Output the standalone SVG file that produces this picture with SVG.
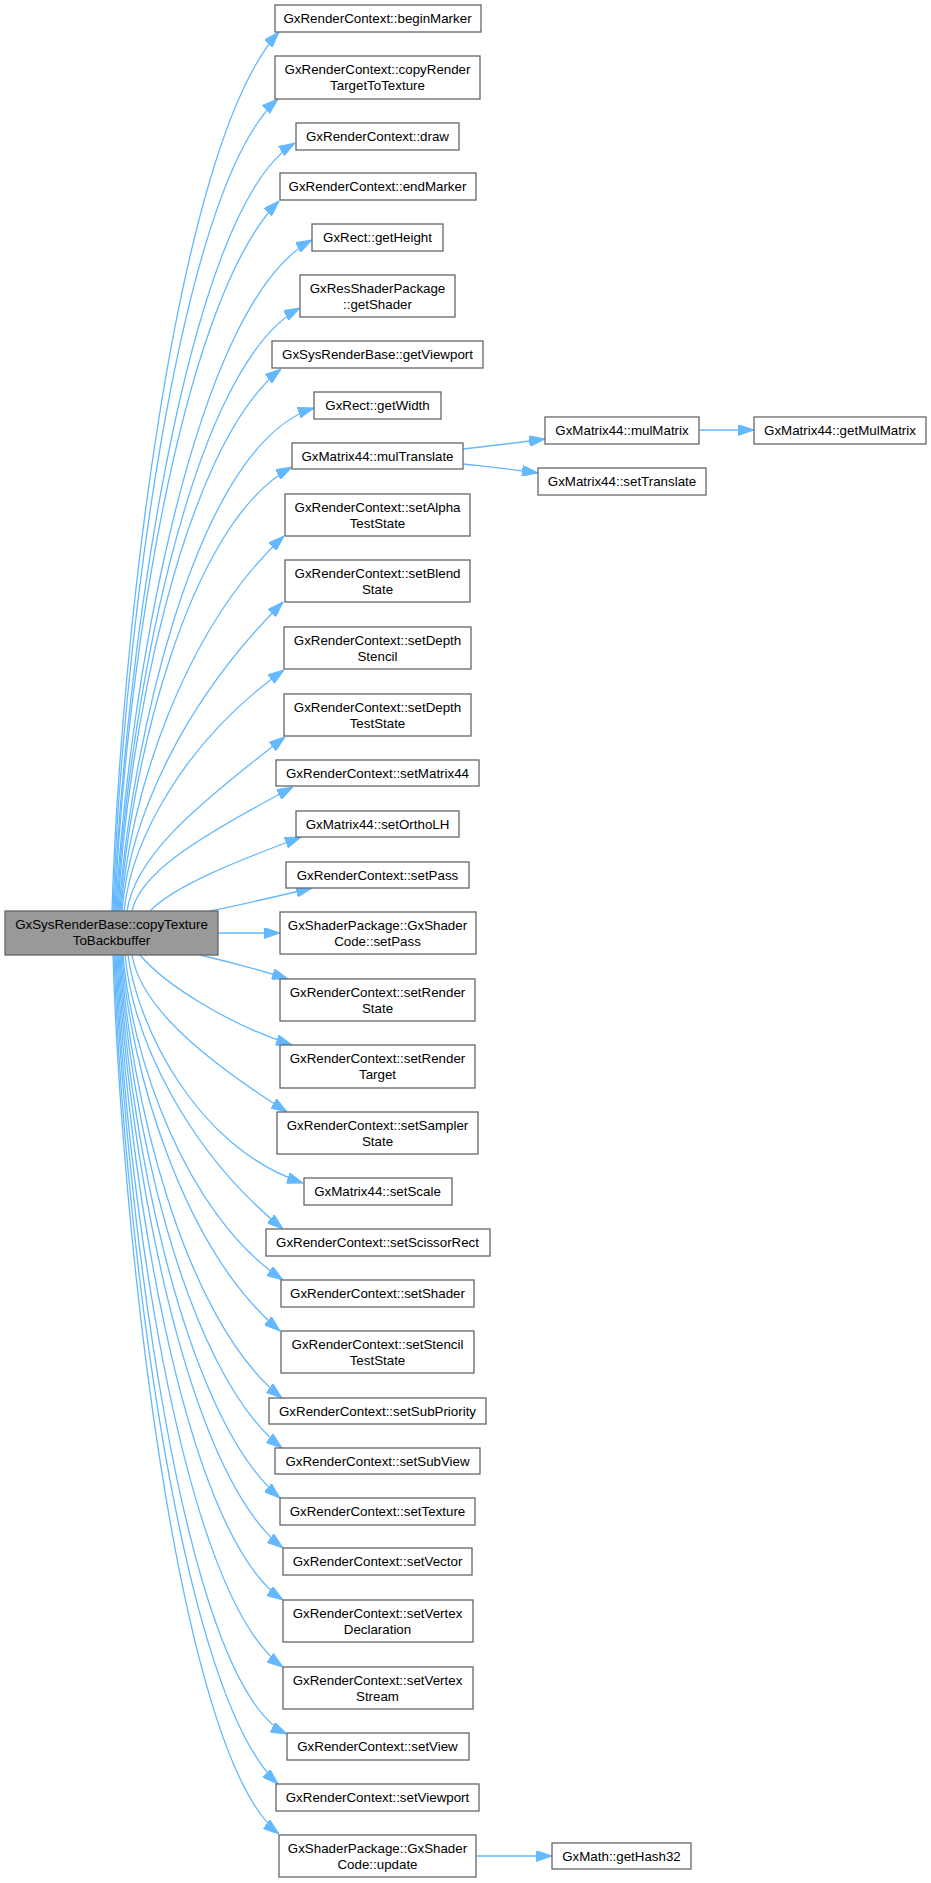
<svg xmlns="http://www.w3.org/2000/svg" width="931" height="1883" viewBox="0 0 931 1883">
<style>
.n rect{fill:#ffffff;stroke:#666666;stroke-width:1.3}
.src rect{fill:#999999;stroke:#666666;stroke-width:1.3}
text{font-family:"Liberation Sans",Arial,sans-serif;font-size:13.33px;fill:#000000;text-anchor:middle}
.e path{fill:none;stroke:#63b8ff;stroke-width:1.3;marker-end:url(#ah)}
</style>
<defs>
<marker id="ah" viewBox="0 0 16 11" markerWidth="16" markerHeight="11" refX="16" refY="5.5" orient="auto" markerUnits="userSpaceOnUse">
<path d="M0,0 L16,5.5 L0,11 z" fill="#63b8ff" stroke="#63b8ff" stroke-width="1"/>
</marker>
</defs>
<rect width="931" height="1883" fill="#ffffff"/>
<g id="edges" class="e">
<path d="M112,911 C120,647 175,144 279,32"/>
<path d="M113,911 C121,667 176,188 278,99"/>
<path d="M114,911 C123,681 183,210 295,143"/>
<path d="M115,911 C123,698 177,303 279,201"/>
<path d="M116,911 C126,710 190,305 312,240"/>
<path d="M117,911 C126,730 187,368 300,308"/>
<path d="M118,911 C126,748 180,449 281,369"/>
<path d="M119,911 C129,760 193,445 314,408"/>
<path d="M120,911 C129,778 185,524 292,467"/>
<path d="M121,911 C129,798 183,629 284,536"/>
<path d="M122,911 C130,818 183,702 283,602"/>
<path d="M124,911 C132,839 185,740 284,670"/>
<path d="M127,911 C135,859 187,812 285,737"/>
<path d="M132,911 C140,874 193,840 293,787"/>
<path d="M150,911 C175,885 240,860 301,837"/>
<path d="M210,911 C240,905 270,898 312,888"/>
<path d="M218,933 L280,933"/>
<path d="M200,955 C230,962 260,970 288,979"/>
<path d="M140,955 C165,985 230,1025 292,1045"/>
<path d="M132,955 C140,1002 191,1051 287,1112"/>
<path d="M128,955 C137,1023 194,1147 303,1183"/>
<path d="M125,955 C133,1037 185,1149 283,1229"/>
<path d="M123,955 C131,1053 184,1214 283,1280"/>
<path d="M122,955 C130,1068 182,1248 280,1331"/>
<path d="M121,955 C129,1088 182,1319 282,1398"/>
<path d="M120,955 C128,1103 182,1369 282,1448"/>
<path d="M119,955 C127,1118 180,1413 280,1498"/>
<path d="M118,955 C126,1133 181,1469 283,1548"/>
<path d="M117,955 C125,1149 180,1531 283,1600"/>
<path d="M116,955 C124,1169 179,1593 283,1667"/>
<path d="M115,955 C124,1189 180,1684 287,1734"/>
<path d="M114,955 C122,1204 176,1690 278,1784"/>
<path d="M113,955 C121,1219 176,1753 279,1834"/>
<path d="M463,449 C490,446 515,443 545,439"/>
<path d="M463,464 C490,467 510,469 538,473"/>
<path d="M699,430 L754,430"/>
<path d="M476,1856 L552,1856"/>
</g>
<g id="node_src" class="src"><rect x="5" y="911" width="213" height="44"/><text x="111.5" y="929">GxSysRenderBase::copyTexture</text><text x="111.5" y="945">ToBackbuffer</text></g>
<g id="node_beginMarker" class="n"><rect x="275" y="5" width="206" height="27"/><text x="377.5" y="23">GxRenderContext::beginMarker</text></g>
<g id="node_copyRenderTargetToTexture" class="n"><rect x="275" y="56" width="205" height="43"/><text x="377.5" y="74">GxRenderContext::copyRender</text><text x="377.5" y="90">TargetToTexture</text></g>
<g id="node_draw" class="n"><rect x="296" y="123" width="163" height="27"/><text x="377.5" y="141">GxRenderContext::draw</text></g>
<g id="node_endMarker" class="n"><rect x="280" y="173" width="196" height="27"/><text x="377.5" y="191">GxRenderContext::endMarker</text></g>
<g id="node_getHeight" class="n"><rect x="312" y="224" width="131" height="27"/><text x="377.5" y="242">GxRect::getHeight</text></g>
<g id="node_getShader" class="n"><rect x="300" y="275" width="155" height="42"/><text x="377.5" y="293">GxResShaderPackage</text><text x="377.5" y="309">::getShader</text></g>
<g id="node_getViewport" class="n"><rect x="272" y="341" width="211" height="27"/><text x="377.5" y="359">GxSysRenderBase::getViewport</text></g>
<g id="node_getWidth" class="n"><rect x="314" y="392" width="127" height="27"/><text x="377.5" y="410">GxRect::getWidth</text></g>
<g id="node_mulTranslate" class="n"><rect x="292" y="443" width="171" height="26"/><text x="377.5" y="461">GxMatrix44::mulTranslate</text></g>
<g id="node_setAlphaTestState" class="n"><rect x="285" y="494" width="185" height="42"/><text x="377.5" y="512">GxRenderContext::setAlpha</text><text x="377.5" y="528">TestState</text></g>
<g id="node_setBlendState" class="n"><rect x="285" y="560" width="185" height="42"/><text x="377.5" y="578">GxRenderContext::setBlend</text><text x="377.5" y="594">State</text></g>
<g id="node_setDepthStencil" class="n"><rect x="284" y="627" width="187" height="42"/><text x="377.5" y="645">GxRenderContext::setDepth</text><text x="377.5" y="661">Stencil</text></g>
<g id="node_setDepthTestState" class="n"><rect x="284" y="694" width="187" height="42"/><text x="377.5" y="712">GxRenderContext::setDepth</text><text x="377.5" y="728">TestState</text></g>
<g id="node_setMatrix44" class="n"><rect x="276" y="760" width="203" height="26"/><text x="377.5" y="778">GxRenderContext::setMatrix44</text></g>
<g id="node_setOrthoLH" class="n"><rect x="296" y="811" width="163" height="26"/><text x="377.5" y="829">GxMatrix44::setOrthoLH</text></g>
<g id="node_setPass" class="n"><rect x="286" y="862" width="183" height="26"/><text x="377.5" y="880">GxRenderContext::setPass</text></g>
<g id="node_codeSetPass" class="n"><rect x="280" y="912" width="196" height="42"/><text x="377.5" y="930">GxShaderPackage::GxShader</text><text x="377.5" y="946">Code::setPass</text></g>
<g id="node_setRenderState" class="n"><rect x="280" y="979" width="195" height="42"/><text x="377.5" y="997">GxRenderContext::setRender</text><text x="377.5" y="1013">State</text></g>
<g id="node_setRenderTarget" class="n"><rect x="280" y="1045" width="195" height="43"/><text x="377.5" y="1063">GxRenderContext::setRender</text><text x="377.5" y="1079">Target</text></g>
<g id="node_setSamplerState" class="n"><rect x="277" y="1112" width="201" height="42"/><text x="377.5" y="1130">GxRenderContext::setSampler</text><text x="377.5" y="1146">State</text></g>
<g id="node_setScale" class="n"><rect x="304" y="1178" width="148" height="27"/><text x="377.5" y="1196">GxMatrix44::setScale</text></g>
<g id="node_setScissorRect" class="n"><rect x="266" y="1229" width="224" height="27"/><text x="377.5" y="1247">GxRenderContext::setScissorRect</text></g>
<g id="node_setShader" class="n"><rect x="281" y="1280" width="193" height="27"/><text x="377.5" y="1298">GxRenderContext::setShader</text></g>
<g id="node_setStencilTestState" class="n"><rect x="281" y="1331" width="193" height="42"/><text x="377.5" y="1349">GxRenderContext::setStencil</text><text x="377.5" y="1365">TestState</text></g>
<g id="node_setSubPriority" class="n"><rect x="269" y="1398" width="217" height="26"/><text x="377.5" y="1416">GxRenderContext::setSubPriority</text></g>
<g id="node_setSubView" class="n"><rect x="275" y="1448" width="205" height="26"/><text x="377.5" y="1466">GxRenderContext::setSubView</text></g>
<g id="node_setTexture" class="n"><rect x="280" y="1498" width="195" height="27"/><text x="377.5" y="1516">GxRenderContext::setTexture</text></g>
<g id="node_setVector" class="n"><rect x="283" y="1548" width="189" height="27"/><text x="377.5" y="1566">GxRenderContext::setVector</text></g>
<g id="node_setVertexDeclaration" class="n"><rect x="283" y="1600" width="190" height="42"/><text x="377.5" y="1618">GxRenderContext::setVertex</text><text x="377.5" y="1634">Declaration</text></g>
<g id="node_setVertexStream" class="n"><rect x="283" y="1667" width="190" height="42"/><text x="377.5" y="1685">GxRenderContext::setVertex</text><text x="377.5" y="1701">Stream</text></g>
<g id="node_setView" class="n"><rect x="287" y="1733" width="182" height="27"/><text x="377.5" y="1751">GxRenderContext::setView</text></g>
<g id="node_setViewport" class="n"><rect x="276" y="1784" width="203" height="27"/><text x="377.5" y="1802">GxRenderContext::setViewport</text></g>
<g id="node_codeUpdate" class="n"><rect x="279" y="1835" width="197" height="42"/><text x="377.5" y="1853">GxShaderPackage::GxShader</text><text x="377.5" y="1869">Code::update</text></g>
<g id="node_mulMatrix" class="n"><rect x="545" y="417" width="154" height="27"/><text x="622" y="435">GxMatrix44::mulMatrix</text></g>
<g id="node_getMulMatrix" class="n"><rect x="754" y="417" width="172" height="27"/><text x="840" y="435">GxMatrix44::getMulMatrix</text></g>
<g id="node_setTranslate" class="n"><rect x="538" y="468" width="168" height="27"/><text x="622" y="486">GxMatrix44::setTranslate</text></g>
<g id="node_getHash32" class="n"><rect x="552" y="1843" width="139" height="26"/><text x="621.5" y="1861">GxMath::getHash32</text></g>
</svg>
